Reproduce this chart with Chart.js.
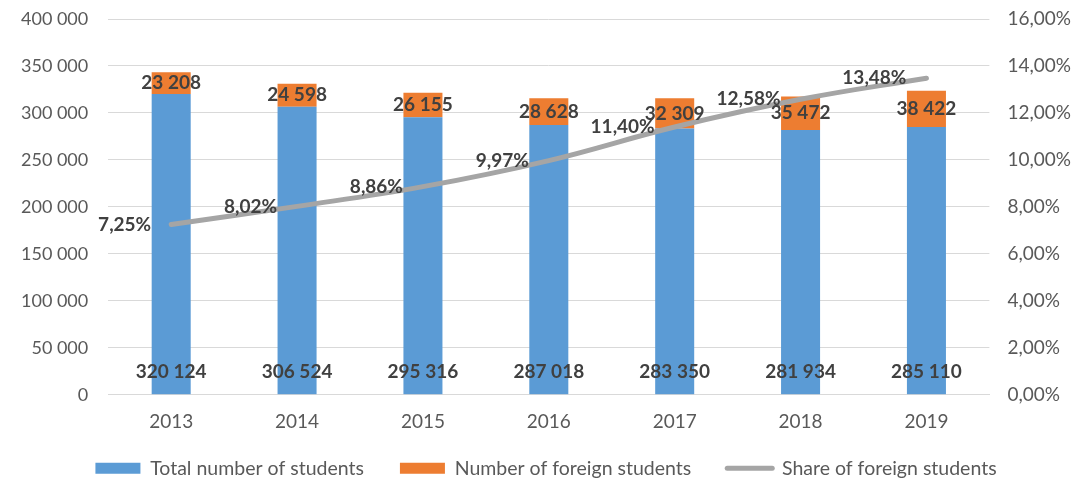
<!DOCTYPE html>
<html>
<head>
<meta charset="utf-8">
<script src="https://cdn.jsdelivr.net/npm/chart.js@4.4.1/dist/chart.umd.min.js"></script>
<style>
html,body{margin:0;padding:0;background:#fff;}
#wrap{width:1091px;height:479px;position:relative;}
</style>
</head>
<body>
<div id="wrap"><canvas id="c" width="1091" height="479"></canvas></div>
<script>
const categories = ['2013', '2014', '2015', '2016', '2017', '2018', '2019'];
const totalStudents = [320124, 306524, 295316, 287018, 283350, 281934, 285110];
const foreignStudents = [23208, 24598, 26155, 28628, 32309, 35472, 38422];
const foreignShare = [7.25, 8.02, 8.86, 9.97, 11.40, 12.58, 13.48];
const seriesNames = ['Total number of students', 'Number of foreign students', 'Share of foreign students'];

const FONT = 'Lato, "Open Sans", sans-serif';
const fmtNum = v => String(Math.round(v)).replace(/\B(?=(\d{3})+(?!\d))/g, ' ');
const fmtPct = v => v.toFixed(2).replace('.', ',') + '%';

const LEGEND_FIT_SHRINK = 28;
const LEGEND_DRAW_SHIFT = 19;

const legendTweak = {
  id: 'legendTweak',
  beforeLayout(chart) {
    const lg = chart.legend;
    if (lg && !lg._tweaked) {
      lg._tweaked = true;
      const fit = lg.fit;
      lg.fit = function () { fit.call(this); this.height -= LEGEND_FIT_SHRINK; };
      const draw = lg._draw;
      lg._draw = function () { this.top -= LEGEND_DRAW_SHIFT; draw.call(this); this.top += LEGEND_DRAW_SHIFT; };
    }
  }
};

const labelPlugin = {
  id: 'valueLabels',
  afterDatasetsDraw(chart) {
    const ctx = chart.ctx;
    ctx.save();
    ctx.font = 'bold 19px ' + FONT;
    ctx.fillStyle = '#404040';
    ctx.textBaseline = 'middle';
    chart.data.datasets.forEach((ds, di) => {
      const meta = chart.getDatasetMeta(di);
      meta.data.forEach((el, i) => {
        const v = ds.data[i];
        if (ds.type === 'line') {
          ctx.textAlign = 'right';
          ctx.fillText(fmtPct(v), el.x - 20, el.y);
        } else if (di === 0) {
          ctx.textAlign = 'center';
          ctx.fillText(fmtNum(v), el.x, el.base - 22);
        } else {
          ctx.textAlign = 'center';
          ctx.fillText(fmtNum(v), el.x, (el.y + el.base) / 2);
        }
      });
    });
    ctx.restore();
  }
};

new Chart(document.getElementById('c'), {
  data: {
    labels: categories,
    datasets: [
      { type: 'bar', label: seriesNames[0], data: totalStudents, backgroundColor: '#5B9BD5', borderWidth: 0, yAxisID: 'y', stack: 's', order: 1, barPercentage: 0.62, categoryPercentage: 0.5 },
      { type: 'bar', label: seriesNames[1], data: foreignStudents, backgroundColor: '#ED7D31', borderWidth: 0, yAxisID: 'y', stack: 's', order: 1, barPercentage: 0.62, categoryPercentage: 0.5 },
      { type: 'line', label: seriesNames[2], data: foreignShare, borderColor: '#A5A5A5', backgroundColor: '#A5A5A5', borderWidth: 5, borderCapStyle: 'round', pointRadius: 0, pointHoverRadius: 0, tension: 0.4, yAxisID: 'y1', order: 0, pointStyle: 'line' }
    ]
  },
  options: {
    responsive: false,
    animation: false,
    events: [],
    layout: { padding: { left: 21, right: 20, top: 19, bottom: 0 } },
    scales: {
      x: {
        stacked: true,
        grid: { display: false },
        border: { display: true, color: '#D9D9D9', width: 1 },
        ticks: { color: '#595959', font: { family: FONT, size: 19 }, padding: 8 }
      },
      y: {
        stacked: true,
        position: 'left',
        min: 0, max: 400000,
        ticks: { stepSize: 50000, color: '#595959', font: { family: FONT, size: 18 }, padding: 0, callback: v => fmtNum(v) },
        grid: { color: '#D9D9D9', lineWidth: 1, drawTicks: true, tickLength: 20, tickColor: 'rgba(0,0,0,0)' },
        border: { display: false }
      },
      y1: {
        position: 'right',
        min: 0, max: 16,
        ticks: { stepSize: 2, color: '#595959', font: { family: FONT, size: 19 }, padding: 0, callback: v => fmtPct(v) },
        grid: { drawOnChartArea: false, drawTicks: true, tickLength: 18, tickColor: 'rgba(0,0,0,0)' },
        border: { display: false }
      }
    },
    plugins: {
      tooltip: { enabled: false },
      legend: {
        position: 'bottom',
        labels: {
          usePointStyle: true,
          pointStyleWidth: 45,
          boxHeight: 11,
          color: '#595959',
          font: { family: FONT, size: 19.5 },
          padding: 36,
          sort: (a, b) => a.datasetIndex - b.datasetIndex,
          generateLabels(chart) {
            const items = Chart.defaults.plugins.legend.labels.generateLabels(chart);
            items.forEach(it => {
              const ds = chart.data.datasets[it.datasetIndex];
              it.pointStyle = ds.type === 'line' ? 'line' : 'rect';
              if (ds.type === 'line') { it.lineWidth = 5; it.strokeStyle = '#A5A5A5'; it.lineCap = 'round'; }
            });
            return items;
          }
        }
      }
    }
  },
  plugins: [legendTweak, labelPlugin]
});
</script>
</body>
</html>
